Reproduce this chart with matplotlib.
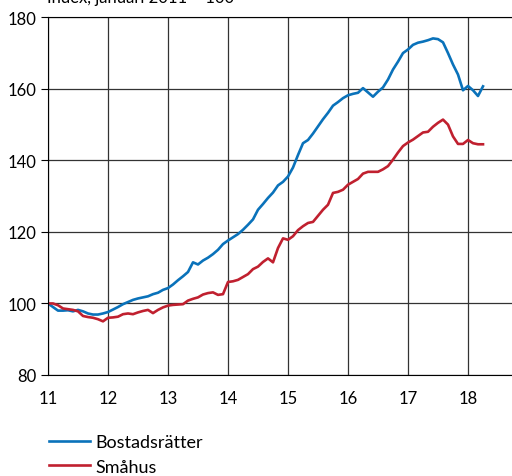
import numpy as np
import matplotlib.pyplot as plt

# monthly index, jan 2011 = 100, jan 2011 - apr 2018
bostadsratter = [100, 99, 98, 98, 98.1, 97.8, 98.2, 97.8, 97.2, 96.9, 96.9, 97.2,
                 97.6, 98.3, 99, 99.8, 100.4, 101, 101.4, 101.7, 102, 102.6, 103, 103.8,
                 104.3, 105.3, 106.5, 107.6, 108.8, 111.5, 110.9, 112, 112.8, 113.8, 115, 116.6,
                 117.6, 118.5, 119.4, 120.6, 122, 123.5, 126.2, 127.8, 129.5, 131, 133, 134,
                 135.5, 138, 141.5, 144.8, 145.7, 147.5, 149.5, 151.5, 153.3, 155.3, 156.3, 157.4,
                 158.2, 158.6, 158.9, 160.2, 159, 157.8, 159.2, 160.4, 162.6, 165.4, 167.6, 170,
                 171, 172.3, 172.9, 173.2, 173.6, 174.1, 173.9, 173, 170, 166.8, 164, 159.6,
                 160.8, 159.6, 158, 160.7]
smahus = [100, 100, 99.5, 98.6, 98.4, 98.2, 97.8, 96.5, 96.2, 96, 95.6, 95,
          96, 96.1, 96.3, 97, 97.2, 97, 97.5, 97.9, 98.2, 97.3, 98.2, 98.9,
          99.4, 99.6, 99.7, 99.8, 100.8, 101.3, 101.7, 102.5, 102.9, 103.1, 102.4, 102.6,
          106, 106.2, 106.6, 107.4, 108.2, 109.6, 110.3, 111.6, 112.6, 111.5, 115.5, 118.2,
          117.8, 118.8, 120.5, 121.6, 122.5, 122.8, 124.5, 126.2, 127.6, 130.9, 131.2, 131.8,
          133.2, 134, 134.8, 136.3, 136.8, 136.8, 136.8, 137.5, 138.4, 140.2, 142.2, 144,
          145, 145.8, 146.8, 147.8, 148, 149.4, 150.5, 151.4, 150, 146.7, 144.6, 144.6,
          145.7, 144.8, 144.5, 144.5]

t = 11 + np.arange(len(bostadsratter)) / 12

plt.rcParams['font.family'] = ['Lato', 'DejaVu Sans']

fig = plt.figure(figsize=(5.12, 4.77), dpi=100)
ax = fig.add_axes([48/512, 1 - 376/477, 1 - 48/512, (376 - 18.3)/477])

ax.plot(t, bostadsratter, color='#0A72BA', lw=1.9, label='Bostadsrätter')
ax.plot(t, smahus, color='#C0202F', lw=1.9, label='Småhus')

ax.set_xlim(11, 11 + (512 - 48) / 60)
ax.set_ylim(80, 180)
ax.set_xticks(range(11, 19))
ax.set_yticks(range(80, 181, 20))
ax.grid(True, color='#333333', lw=0.9)
ax.set_axisbelow(True)
ax.spines['right'].set_visible(False)
ax.tick_params(axis='x', length=0, labelsize=12, pad=11)
ax.tick_params(axis='y', length=5, labelsize=12)

fig.text(47/512, 1 - 3/477, 'Index, januari 2011 = 100', fontsize=12, va='baseline')
fig.legend(loc='lower left', bbox_to_anchor=(49/512, 0.003), frameon=False,
           fontsize=13, handlelength=2.28, labelspacing=0.45, handletextpad=0.3,
           borderpad=0, borderaxespad=0)

fig.savefig('out.png', dpi=100)
